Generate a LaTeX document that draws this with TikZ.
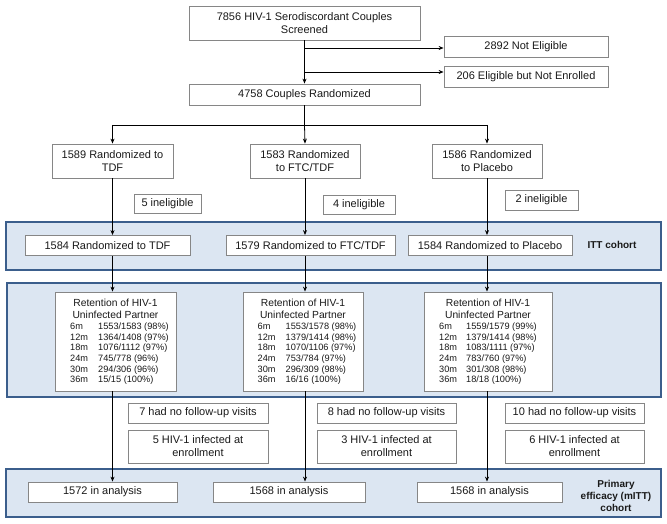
\documentclass[tikz,border=0pt]{standalone}
\usepackage{fontspec}
\setmainfont{Liberation Sans}
\usepackage{tikz}
\usetikzlibrary{arrows.meta}
\usetikzlibrary{positioning}

\definecolor{bandfill}{HTML}{DCE6F2}
\definecolor{bandline}{HTML}{3B5E8C}
\definecolor{boxline}{HTML}{868686}
\definecolor{txt}{HTML}{1A1A1A}

\tikzset{
    flowbox/.style={draw=boxline, fill=white, line width=0.8pt, align=center, inner sep=1pt, text=txt},
    retbox/.style={flowbox, minimum height=99, font=\fontsize{10.3}{12}\selectfont},
    band/.style={draw=bandline, fill=bandfill, line width=2pt},
    flowarrow/.style={-{Stealth[length=5pt,width=4pt]}, line width=0.8pt, black},
    cohortlabel/.style={align=center, text=txt, font=\bfseries\fontsize{10}{12}\selectfont}
}

\begin{document}
\begin{tikzpicture}[x=1pt, y=-1pt, font=\fontsize{11}{13}\selectfont]
        \useasboundingbox (0,0) rectangle (667,524);
        \draw[band] (6,222) rectangle (661,270);
        \draw[band] (7,283) rectangle (661,397);
        \draw[band] (6,469) rectangle (661,517);

        \node[flowbox, minimum width=231, minimum height=34] (screen) at (304.5,23) {7856 HIV-1 Serodiscordant Couples\\Screened};
        \node[flowbox, minimum width=164, minimum height=21] (notelig) at (526,46.5) {2892 Not Eligible};
        \node[flowbox, minimum width=164, minimum height=21] (notenr) at (526,76.5) {206 Eligible but Not Enrolled};
        \node[flowbox, minimum width=231, minimum height=21] (rand) at (304.5,94.5) {4758 Couples Randomized};

        \node[flowbox, minimum width=121, minimum height=34] (tdf) at (112.5,161) {1589 Randomized to\\TDF};
        \node[flowbox, minimum width=110, minimum height=34] (ftc) at (305,161) {1583 Randomized\\to FTC/TDF};
        \node[flowbox, minimum width=110, minimum height=34] (plc) at (487,161) {1586 Randomized\\to Placebo};

        \node[flowbox, minimum width=67, minimum height=19] (inel1) at (167.5,204) {5 ineligible};
        \node[flowbox, minimum width=72, minimum height=19] (inel2) at (359,204.5) {4 ineligible};
        \node[flowbox, minimum width=73, minimum height=20] (inel3) at (541.5,200) {2 ineligible};

        \node[flowbox, minimum width=165, minimum height=20] (itt1) at (107.5,245.5) {1584 Randomized to TDF};
        \node[flowbox, minimum width=169, minimum height=20] (itt2) at (310.5,245.5) {1579 Randomized to FTC/TDF};
        \node[flowbox, minimum width=164, minimum height=20] (itt3) at (490,245.5) {1584 Randomized to Placebo};
        \node[cohortlabel] (ittlab) at (612,245) {ITT cohort};

        \node[retbox, minimum width=121] (ret1) at (115.5,341.5) {\rule{0pt}{10pt}Retention of HIV-1\\Uninfected Partner\\[2pt]
            {\fontsize{9.2}{10.7}\selectfont\begin{tabular}{@{\hspace{8pt}}p{28pt}@{}l@{}}
            6m & 1553/1583 (98\%)\\
            12m & 1364/1408 (97\%)\\
            18m & 1076/1112 (97\%)\\
            24m & 745/778 (96\%)\\
            30m & 294/306 (96\%)\\
            36m & 15/15 (100\%)
            \end{tabular}}};
        \node[retbox, minimum width=120] (ret2) at (303,341.5) {\rule{0pt}{10pt}Retention of HIV-1\\Uninfected Partner\\[2pt]
            {\fontsize{9.2}{10.7}\selectfont\begin{tabular}{@{\hspace{8pt}}p{28pt}@{}l@{}}
            6m & 1553/1578 (98\%)\\
            12m & 1379/1414 (98\%)\\
            18m & 1070/1106 (97\%)\\
            24m & 753/784 (97\%)\\
            30m & 296/309 (98\%)\\
            36m & 16/16 (100\%)
            \end{tabular}}};
        \node[retbox, minimum width=128] (ret3) at (488,341.5) {\rule{0pt}{10pt}Retention of HIV-1\\Uninfected Partner\\[2pt]
            {\fontsize{9.2}{10.7}\selectfont\begin{tabular}{@{}p{27pt}@{}l@{}}
            6m & 1559/1579 (99\%)\\
            12m & 1379/1414 (98\%)\\
            18m & 1083/1111 (97\%)\\
            24m & 783/760 (97\%)\\
            30m & 301/308 (98\%)\\
            36m & 18/18 (100\%)
            \end{tabular}}};

        \node[flowbox, minimum width=140, minimum height=20] (nofu1) at (198,413) {7 had no follow-up visits};
        \node[flowbox, minimum width=139, minimum height=20] (nofu2) at (386.5,413) {8 had no follow-up visits};
        \node[flowbox, minimum width=139, minimum height=20] (nofu3) at (574.5,413) {10 had no follow-up visits};
        \node[flowbox, minimum width=140, minimum height=33] (inf1) at (198,446.5) {5 HIV-1 infected at\\enrollment};
        \node[flowbox, minimum width=139, minimum height=33] (inf2) at (386.5,446.5) {3 HIV-1 infected at\\enrollment};
        \node[flowbox, minimum width=139, minimum height=33] (inf3) at (574.5,446.5) {6 HIV-1 infected at\\enrollment};

        \node[flowbox, minimum width=149, minimum height=20] (an1) at (102.5,492) {1572 in analysis};
        \node[flowbox, minimum width=152, minimum height=20] (an2) at (289,492) {1568 in analysis};
        \node[flowbox, minimum width=145, minimum height=20] (an3) at (489.5,492) {1568 in analysis};
        \node[cohortlabel] (mittlab) at (616,496) {Primary\\efficacy (mITT)\\cohort};

        \coordinate (b1) at (304.5,48);
        \coordinate (b2) at (304.5,72);
        \coordinate (split) at (304.5,125);
        \coordinate (s1) at (tdf.north |- split);
        \coordinate (s3) at (plc.north |- split);

        \draw[flowarrow] (screen.south) -- (rand.north);
        \draw[flowarrow] (b1) -- (b1 -| notelig.west);
        \draw[flowarrow] (b2) -- (b2 -| notenr.west);
        \draw[line width=0.8pt] (rand.south) -- (split);
        \draw[line width=0.8pt] (s1) -- (s3);
        \draw[flowarrow] (s1) -- (tdf.north);
        \draw[flowarrow] (split) -- (ftc.north);
        \draw[flowarrow] (s3) -- (plc.north);

        \foreach \col/\itt/\ret/\an in {tdf/itt1/ret1/an1, ftc/itt2/ret2/an2, plc/itt3/ret3/an3}
        {
            \draw[flowarrow] (\col.south) -- (\col.south |- \itt.north);
            \draw[flowarrow] (\col.south |- \itt.south) -- (\col.south |- \ret.north);
            \draw[flowarrow] (\col.south |- \ret.south) -- (\col.south |- \an.north);
        }
    \end{tikzpicture}
\end{document}
